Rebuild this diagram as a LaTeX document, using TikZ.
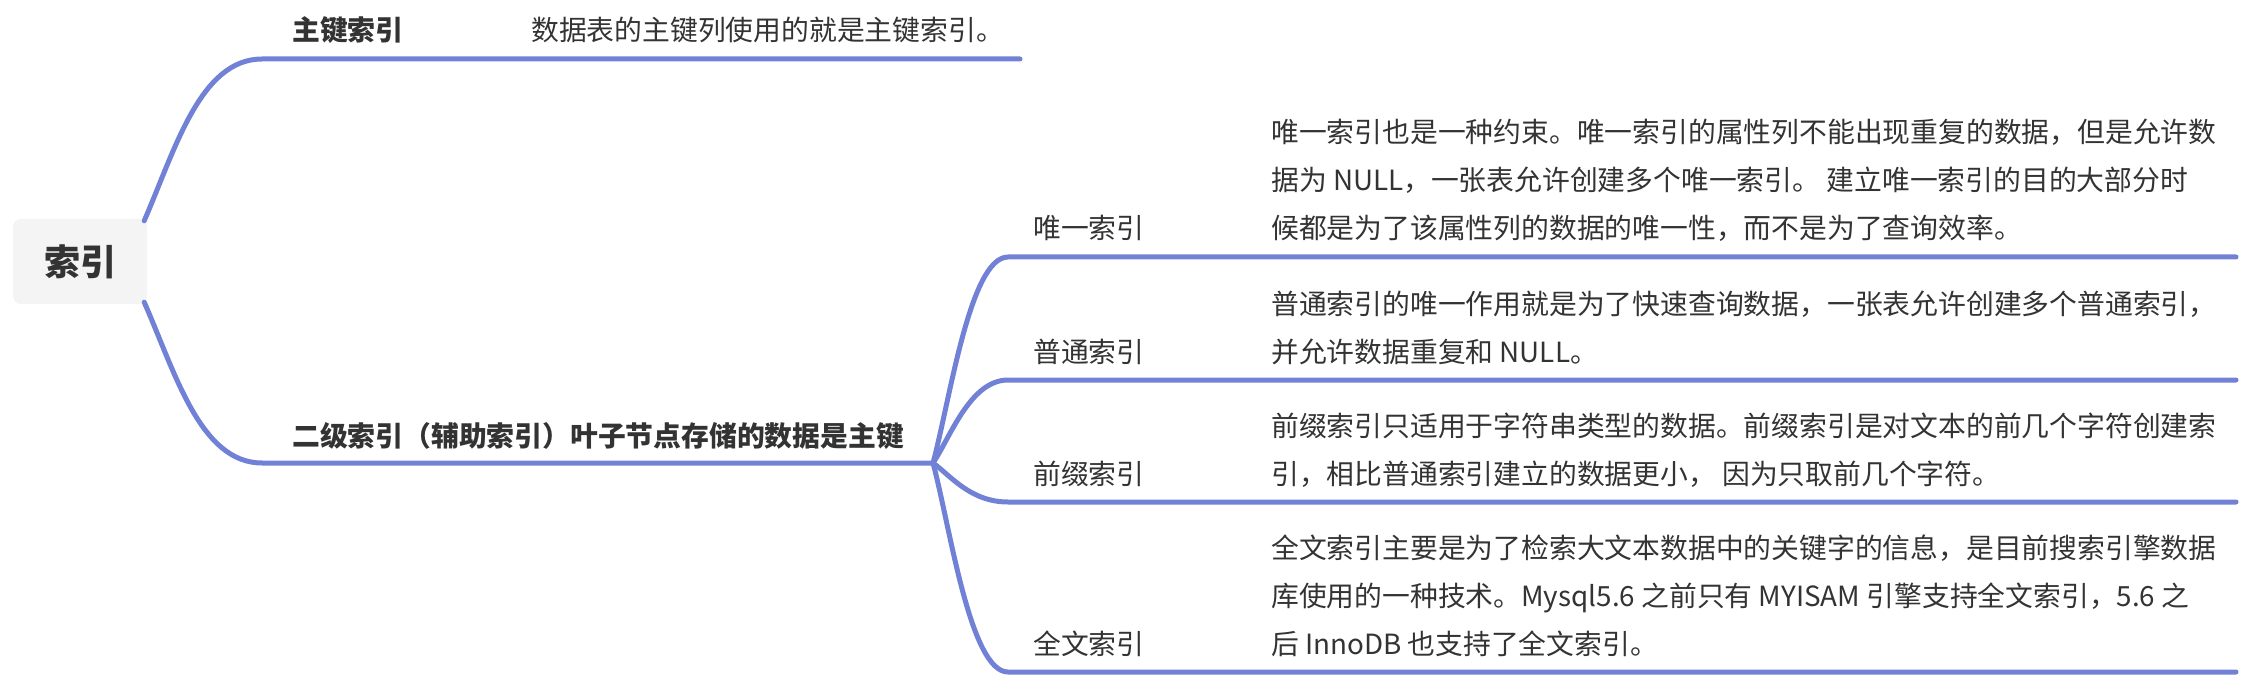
\documentclass[tikz,border=0pt]{standalone}
\usepackage{fontspec}
\setmainfont{Noto Sans CJK SC}
\usepackage{tikz}
\usetikzlibrary{positioning,calc}

\definecolor{branchblue}{RGB}{113,129,214}
\definecolor{inkgray}{HTML}{333333}
\definecolor{rootgray}{HTML}{F4F4F4}

\begin{document}
\begin{tikzpicture}[x=1pt,y=-1pt,
		font=\fontsize{27.8}{48}\selectfont,
		text=inkgray,
		branch/.style={draw=branchblue,line width=5pt,line cap=round,line join=round},
		topic/.style={anchor=base west,inner sep=0,font=\fontsize{27.8}{48}\selectfont\bfseries},
		subtopic/.style={anchor=base west,inner sep=0},
		note/.style={anchor=base west,inner sep=0,align=left}]

		\useasboundingbox (0,0) rectangle (2248,676);

		\node[fill=rootgray,
			rounded corners=8pt,
			minimum width=134pt,
			minimum height=85pt,
			inner sep=0,
			font=\fontsize{36}{40}\selectfont\bfseries] (root) at (80,261.5) {索引};

		% first level
		\node[topic] (primary) at (292,41) {主键索引};
		\node[note] (primary-note) at (531,41) {数据表的主键列使用的就是主键索引。};
		\node[topic] (secondary) at (292,446) {二级索引（辅助索引）叶子节点存储的数据是主键};

		% second level
		\node[subtopic] (unique) at (1033,239) {唯一索引};
		\node[subtopic] (normal) at (1033,362) {普通索引};
		\node[subtopic] (prefix) at (1033,484) {前缀索引};
		\node[subtopic] (fulltext) at (1033,654) {全文索引};

		% base of a note = baseline of its last line
		\node[note] (unique-note) at (1271,239) {唯一索引也是一种约束。唯一索引的属性列不能出现重复的数据，但是允许数\\
			据为 NULL，一张表允许创建多个唯一索引。 建立唯一索引的目的大部分时\\
			候都是为了该属性列的数据的唯一性，而不是为了查询效率。};
		\node[note] (normal-note) at (1271,362) {普通索引的唯一作用就是为了快速查询数据，一张表允许创建多个普通索引，\\
			并允许数据重复和 NULL。};
		\node[note] (prefix-note) at (1271,484) {前缀索引只适用于字符串类型的数据。前缀索引是对文本的前几个字符创建索\\
			引，相比普通索引建立的数据更小， 因为只取前几个字符。};
		\node[note] (fulltext-note) at (1271,654) {全文索引主要是为了检索大文本数据中的关键字的信息，是目前搜索引擎数据\\
			库使用的一种技术。Mysql5.6 之前只有 MYISAM 引擎支持全文索引，5.6 之\\
			后 InnoDB 也支持了全文索引。};

		\coordinate (primary-end) at (1020,59);
		\coordinate (secondary-fork) at (933,463);
		\coordinate (unique-end) at (2236,257);
		\coordinate (normal-end) at (2236,380);
		\coordinate (prefix-end) at (2236,502);
		\coordinate (fulltext-end) at (2236,672);

		\draw[branch] ($(root.north east)+(-3,2)$) .. controls (175,150) and (200,59) .. (262,59) -- (primary-end);
		\draw[branch] ($(root.south east)+(-3,-2)$) .. controls (175,372) and (200,463) .. (262,463) -- (secondary-fork);

		\draw[branch] (secondary-fork) .. controls (950,400) and (970,257) .. (1008,257) -- (unique-end);
		\draw[branch] (secondary-fork) .. controls (950,438) and (970,380) .. (1008,380) -- (normal-end);
		\draw[branch] (secondary-fork) .. controls (950,475) and (970,502) .. (1008,502) -- (prefix-end);
		\draw[branch] (secondary-fork) .. controls (950,526) and (970,672) .. (1008,672) -- (fulltext-end);

	\end{tikzpicture}
\end{document}
